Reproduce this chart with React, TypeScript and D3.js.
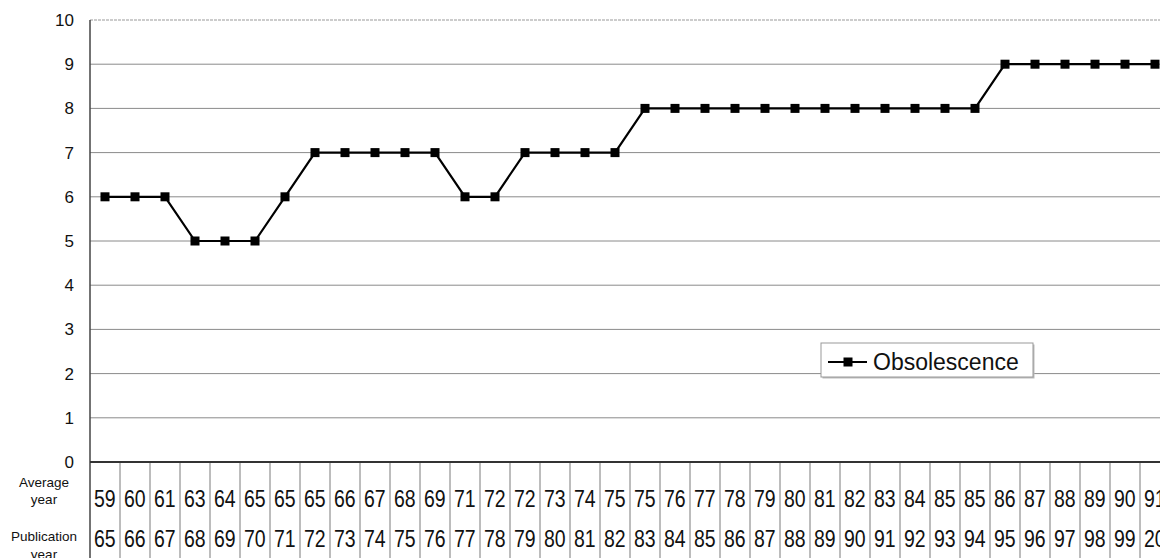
import React from "react";
import * as d3 from "d3";

const averageYears = ["59","60","61","63","64","65","65","65","66","67","68","69","71","72","72","73","74","75","75","76","77","78","79","80","81","82","83","84","85","85","86","87","88","89","90","91"];
const publicationYears = ["65","66","67","68","69","70","71","72","73","74","75","76","77","78","79","80","81","82","83","84","85","86","87","88","89","90","91","92","93","94","95","96","97","98","99","2000"];
const obsolescence = [6,6,6,5,5,5,6,7,7,7,7,7,6,6,7,7,7,7,8,8,8,8,8,8,8,8,8,8,8,8,9,9,9,9,9,9];
const yTicks = [0,1,2,3,4,5,6,7,8,9,10];
const seriesName = "Obsolescence";

const W = 1160, H = 558;
const left = 90, right = 1170, top = 20, bottom = 462;
const font = "'Liberation Sans', Arial, Helvetica, sans-serif";

export default function App() {
  const idx = obsolescence.map((_, i) => i);
  const x = d3.scaleBand<number>().domain(idx).range([left, right]);
  const y = d3.scaleLinear().domain([0, 10]).range([bottom, top]);
  const cx = (i: number) => (x(i) as number) + x.bandwidth() / 2;
  const line = d3.line<number>().x((_, i) => cx(i)).y((d) => y(d));

  const legX = 821, legY = 343, legW = 212, legH = 34;

  return (
    <svg width={W} height={H} style={{ position: "absolute", left: 0, top: 0, background: "#fff" }} fontFamily={font}>
      {/* gridlines */}
      {yTicks.filter((t) => t > 0).map((t) => (
        <line key={"g" + t} x1={left} x2={W} y1={y(t)} y2={y(t)} stroke={t === 10 ? "#999" : "#8a8a8a"} strokeWidth={1} strokeDasharray={t === 10 ? "3 1" : undefined} />
      ))}
      {/* y tick labels */}
      {yTicks.map((t) => (
        <text key={"t" + t} x={74} y={y(t)} dy="0.35em" textAnchor="end" fontSize={17} fill="#111">{t}</text>
      ))}
      {/* table vertical lines */}
      {idx.map((i) => (
        <line key={"v" + i} x1={(x(i) as number) + x.bandwidth()} x2={(x(i) as number) + x.bandwidth()} y1={bottom} y2={H} stroke="#7a7a7a" strokeWidth={1} />
      ))}
      {/* axes */}
      <line x1={left} x2={left} y1={top} y2={H} stroke="#444" strokeWidth={1.5} />
      <line x1={left} x2={W} y1={bottom} y2={bottom} stroke="#333" strokeWidth={1.8} />
      {/* row labels */}
      <text x={44} y={482} dy="0.35em" textAnchor="middle" fontSize={13.5} fill="#111">Average</text>
      <text x={44} y={499} dy="0.35em" textAnchor="middle" fontSize={13.5} fill="#111">year</text>
      <text x={44} y={536} dy="0.35em" textAnchor="middle" fontSize={13.5} fill="#111">Publication</text>
      <text x={44} y={554} dy="0.35em" textAnchor="middle" fontSize={13.5} fill="#111">year</text>
      {/* table values */}
      {averageYears.map((v, i) => (
        <text key={"a" + i} transform={`translate(${(x(i) as number) + 4},${499}) scale(1,1.18)`} dy="0.35em" fontSize={19.5} fill="#111">{v}</text>
      ))}
      {publicationYears.map((v, i) => (
        <text key={"p" + i} transform={`translate(${(x(i) as number) + 4},${539}) scale(1,1.18)`} dy="0.35em" fontSize={19.5} fill="#111">{v}</text>
      ))}
      {/* series */}
      <path d={line(obsolescence) || ""} fill="none" stroke="#000" strokeWidth={2.2} />
      {obsolescence.map((v, i) => (
        <rect key={"m" + i} x={cx(i) - 4.5} y={y(v) - 4.5} width={9} height={9} fill="#000" />
      ))}
      {/* legend */}
      <rect x={legX + 1.5} y={legY + 1.5} width={legW} height={legH} fill="#bbb" />
      <rect x={legX} y={legY} width={legW} height={legH} fill="#fff" stroke="#999" strokeWidth={1} />
      <line x1={828} x2={867} y1={legY + legH / 2 + 2} y2={legY + legH / 2 + 2} stroke="#000" strokeWidth={2.2} />
      <rect x={848 - 4.5} y={legY + legH / 2 + 2 - 4.5} width={9} height={9} fill="#000" />
      <text x={873} y={legY + legH / 2 + 2} dy="0.35em" fontSize={23} fill="#111">{seriesName}</text>
    </svg>
  );
}
